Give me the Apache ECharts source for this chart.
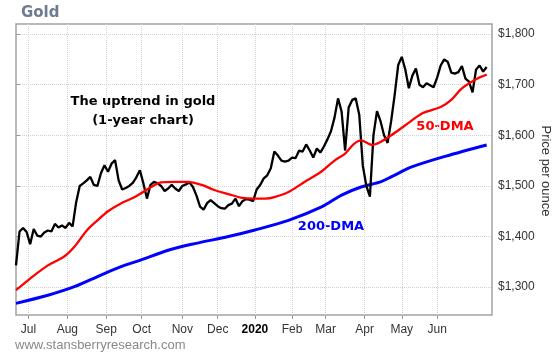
<!DOCTYPE html>
<html><head><meta charset="utf-8">
<script src="https://cdn.jsdelivr.net/npm/echarts@6/dist/echarts.min.js"></script>
<style>html,body{margin:0;padding:0;background:#fff}#c{width:553px;height:353px}</style>
</head><body><div id="c"></div>
<script>
// x axis: trading-day index starting ~Jun 20, 2019
const monthLabels = ['Jul','Aug','Sep','Oct','Nov','Dec','2020','Feb','Mar','Apr','May','Jun'];
const monthDayIdx = [7,29,51,71,94,114,135,156,175,197,218,238];
const priceTicks = [1300,1400,1500,1600,1700,1800];
const priceStepDays = 2; // one price reading every 2 trading days
const goldPrice = [
1343,1410,1417,1409,1385,1415,1402,1400,1408,1412,
1410,1425,1418,1422,1417,1427,1420,1468,1500,1505,
1511,1518,1502,1500,1525,1541,1528,1544,1551,1511,
1493,1496,1500,1506,1517,1531,1505,1475,1502,1508,
1505,1500,1490,1495,1502,1495,1490,1500,1503,1507,
1498,1481,1459,1453,1466,1472,1466,1460,1456,1455,
1462,1465,1475,1460,1470,1474,1473,1470,1493,1502,
1515,1521,1535,1568,1560,1550,1548,1550,1556,1555,
1570,1568,1582,1570,1556,1574,1566,1578,1592,1608,
1635,1673,1647,1570,1655,1670,1673,1640,1540,1500,
1479,1600,1648,1628,1600,1585,1628,1680,1739,1755,
1730,1693,1718,1732,1700,1695,1703,1699,1695,1714,
1738,1750,1745,1724,1722,1725,1737,1712,1706,1685,
1730,1738,1726,1735
];
const dma50Days = [0,8,18,27,33,40,46,52,59,66,70,75,82,90,97,105,112,120,127,135,141,146,154,163,172,180,186,191,195,199,201,206,212,220,230,240,246,252,260,266];
const dma50Vals = [1294,1317,1343,1360,1380,1412,1432,1450,1465,1476,1484,1495,1507,1508,1508,1502,1492,1484,1477,1475,1475,1478,1488,1508,1527,1550,1564,1583,1590,1584,1581,1587,1600,1620,1644,1656,1670,1693,1711,1720];
const dma200Days = [0,18,33,48,59,70,86,101,120,135,154,173,184,195,206,212,224,243,266];
const dma200Vals = [1268,1284,1301,1324,1340,1353,1373,1386,1400,1413,1432,1459,1482,1498,1508,1518,1538,1559,1581];

const chart = echarts.init(document.getElementById('c'));
const fmtPrice = v => '$' + Math.floor(v/1000) + ',' + String(v % 1000).padStart(3,'0');
const monthFor = v => { const k = monthDayIdx.indexOf(Math.round(v)); return k < 0 ? '' : monthLabels[k]; };
const gridLine = {show:true, lineStyle:{color:'#d2d2d2', type:'dotted', width:1}};

chart.setOption({
  animation:false,
  backgroundColor:'#fff',
  title:{text:'Gold', left:16, top:1, textStyle:{fontFamily:'DejaVu Sans', fontWeight:'bold', fontSize:15, color:'#6e7c90'}},
  grid:{left:16, top:24, right:61, bottom:38, show:true, borderColor:'#a3a3a3', borderWidth:1.5},
  xAxis:{type:'value', min:0, max:269,
    axisLine:{show:false},
    axisTick:{show:true, customValues:monthDayIdx, length:4, lineStyle:{color:'#999'}},
    axisLabel:{customValues:monthDayIdx, margin:9, color:'#333', fontSize:12, fontFamily:'Liberation Sans',
      formatter: v => { const m = monthFor(v); return m === '2020' ? '{b|2020}' : m; },
      rich:{b:{fontWeight:'bold', color:'#000', fontSize:12, fontFamily:'Liberation Sans'}}},
    splitLine:gridLine},
  yAxis:{type:'value', position:'right', min:1245, max:1820,
    axisLine:{show:false},
    axisTick:{show:true, customValues:priceTicks, length:4, lineStyle:{color:'#999'}},
    axisLabel:{customValues:priceTicks, margin:6, color:'#333', fontSize:12, fontFamily:'Liberation Sans', formatter:fmtPrice},
    splitLine:gridLine},
  series:[
    {type:'line', name:'200-DMA', data:dma200Days.map((d,i)=>[d,dma200Vals[i]]), smooth:0.3, showSymbol:false,
     lineStyle:{color:'#0000ff', width:3}, z:2},
    {type:'line', name:'Gold', data:goldPrice.map((v,i)=>[i*priceStepDays, v]), showSymbol:false,
     lineStyle:{color:'#000', width:2.3}, z:3},
    {type:'line', name:'50-DMA', data:dma50Days.map((d,i)=>[d,dma50Vals[i]]), smooth:0.3, showSymbol:false,
     lineStyle:{color:'#ff0000', width:2.3}, z:4}
  ],
  graphic:[
    {type:'text', x:143, y:102, style:{text:'The uptrend in gold', font:'bold 13px "DejaVu Sans"', fill:'#000', align:'center', verticalAlign:'middle'}},
    {type:'text', x:143, y:121, style:{text:'(1-year chart)', font:'bold 13px "DejaVu Sans"', fill:'#000', align:'center', verticalAlign:'middle'}},
    {type:'text', x:445, y:127, style:{text:'50-DMA', font:'bold 13px "DejaVu Sans"', fill:'#ff0000', align:'center', verticalAlign:'middle'}},
    {type:'text', x:331, y:227, style:{text:'200-DMA', font:'bold 13px "DejaVu Sans"', fill:'#0000ff', align:'center', verticalAlign:'middle'}},
    {type:'text', x:546, y:171, rotation:-Math.PI/2, style:{text:'Price per ounce', font:'13px "Liberation Sans"', fill:'#333', align:'center', verticalAlign:'middle'}},
    {type:'text', x:15, y:345, style:{text:'www.stansberryresearch.com', font:'13px "Liberation Sans"', fill:'#888', align:'left', verticalAlign:'middle'}}
  ]
});
</script></body></html>
